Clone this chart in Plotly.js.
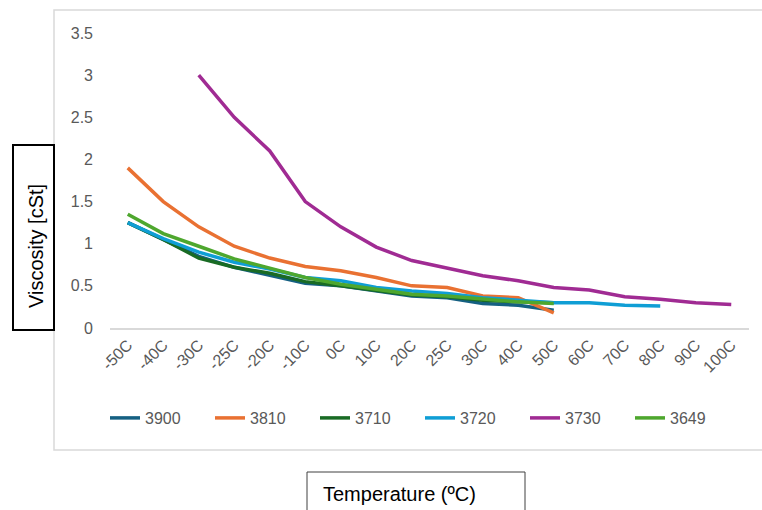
<!DOCTYPE html>
<html>
<head>
<meta charset="utf-8">
<script src="https://cdn.plot.ly/plotly-3.0.1.min.js"></script>
<style>html,body{margin:0;padding:0;background:#fff;} #chart{width:762px;height:510px;}</style>
</head>
<body>
<div id="chart"></div>
<script>
const categories = ["-50C","-40C","-30C","-25C","-20C","-10C","0C","10C","20C","25C","30C","40C","50C","60C","70C","80C","90C","100C"];
const yTicks = [0, 0.5, 1, 1.5, 2, 2.5, 3, 3.5];
const seriesNames = ["3900", "3810", "3710", "3720", "3730", "3649"];
const v3900 = [1.25, 1.05, 0.85, 0.72, 0.63, 0.53, 0.50, 0.44, 0.38, 0.36, 0.29, 0.27, 0.21];
const v3810 = [1.9, 1.5, 1.2, 0.97, 0.83, 0.73, 0.68, 0.60, 0.50, 0.48, 0.38, 0.36, 0.18];
const v3710 = [1.25, 1.05, 0.83, 0.72, 0.65, 0.55, 0.50, 0.44, 0.39, 0.37, 0.33, 0.31, 0.30];
const v3720 = [1.25, 1.06, 0.90, 0.78, 0.70, 0.60, 0.56, 0.48, 0.44, 0.41, 0.36, 0.33, 0.30, 0.30, 0.27, 0.26];
const v3730 = [null, null, 3.0, 2.5, 2.1, 1.5, 1.2, 0.96, 0.80, 0.71, 0.62, 0.56, 0.48, 0.45, 0.37, 0.34, 0.30, 0.28];
const v3649 = [1.35, 1.12, 0.97, 0.82, 0.71, 0.60, 0.52, 0.46, 0.40, 0.38, 0.34, 0.31, 0.29];
const seriesValues = [v3900, v3810, v3710, v3720, v3730, v3649];
const colors = ["#156082", "#E97132", "#196B24", "#0F9ED5", "#A02B93", "#4EA72E"];

const W = 762, H = 510;
const M = {l: 110, r: 13, t: 33, b: 182};
const PW = W - M.l - M.r, PH = H - M.t - M.b;
const px = x => (x - M.l) / PW;
const py = y => (H - M.b - y) / PH;

const FONT = "Liberation Sans, Arial, sans-serif";

const traces = seriesNames.map((n, i) => ({
  type: "scatter",
  mode: "lines",
  name: n,
  x: categories.slice(0, seriesValues[i].length),
  y: seriesValues[i],
  line: {color: colors[i], width: 3.5},
  connectgaps: false,
  hoverinfo: "x+y+name"
}));

const layout = {
  width: W, height: H,
  margin: M,
  paper_bgcolor: "#fff",
  plot_bgcolor: "#fff",
  font: {family: FONT, size: 16, color: "#595959"},
  showlegend: true,
  legend: {
    orientation: "h",
    x: px(105), xanchor: "left",
    y: py(418), yanchor: "middle",
    font: {family: FONT, size: 16, color: "#595959"},
    entrywidth: 60, entrywidthmode: "pixels",
    tracegroupgap: 0
  },
  xaxis: {
    type: "category",
    categoryorder: "array",
    categoryarray: categories,
    range: [-0.5, categories.length - 0.5],
    showgrid: false,
    zeroline: false,
    showline: true,
    linecolor: "#d9d9d9",
    linewidth: 1.5,
    ticks: "",
    tickangle: -45,
    tickfont: {family: FONT, size: 16, color: "#595959"},
    fixedrange: true
  },
  yaxis: {
    range: [0, 3.5],
    tickvals: yTicks,
    ticktext: yTicks.map(String),
    showgrid: false,
    zeroline: false,
    showline: false,
    ticks: "",
    ticklabelstandoff: 16,
    tickfont: {family: FONT, size: 16, color: "#595959"},
    fixedrange: true
  },
  shapes: [
    {type: "rect", xref: "paper", yref: "paper", x0: px(54), x1: px(775), y0: py(450), y1: py(10),
     line: {color: "#d9d9d9", width: 1.5}, fillcolor: "rgba(0,0,0,0)", layer: "below"},
    {type: "rect", xref: "paper", yref: "paper", x0: px(13), x1: px(54), y0: py(330), y1: py(145),
     line: {color: "#000", width: 2}, fillcolor: "#fff"},
    {type: "rect", xref: "paper", yref: "paper", x0: px(307), x1: px(525), y0: py(520), y1: py(472),
     line: {color: "#404040", width: 1}, fillcolor: "#fff"}
  ],
  annotations: [
    {text: "Viscosity [cSt]", xref: "paper", yref: "paper", x: px(36), y: py(246),
     xanchor: "center", yanchor: "middle", textangle: -90, showarrow: false,
     font: {family: FONT, size: 20, color: "#000"}},
    {text: "Temperature (ºC)", xref: "paper", yref: "paper", x: px(321), y: py(494),
     xanchor: "left", yanchor: "middle", showarrow: false,
     font: {family: FONT, size: 20, color: "#000"}}
  ]
};

Plotly.newPlot("chart", traces, layout, {displayModeBar: false, staticPlot: true});
</script>
</body>
</html>
